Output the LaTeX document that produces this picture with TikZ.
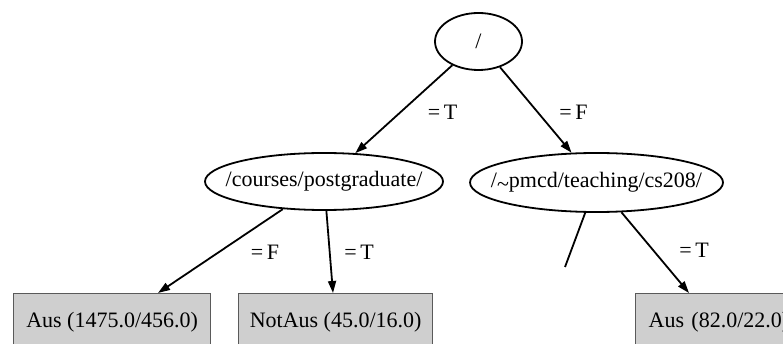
\documentclass[tikz,border=0pt]{standalone}
\usepackage{fontspec}
\setmainfont{Liberation Serif}
\usetikzlibrary{shapes.geometric,arrows.meta}
\definecolor{leaffill}{HTML}{CFCFCF}
\definecolor{leafline}{HTML}{5A5A5A}
\begin{document}
\begin{tikzpicture}[x=1pt,y=-1pt,
  every node/.style={font=\fontsize{22}{26}\selectfont},
  test/.style={ellipse, draw=black, line width=1.8pt, inner sep=0pt},
  leaf/.style={rectangle, draw=leafline, line width=1.3pt, fill=leaffill, inner sep=0pt, anchor=north west, text height=34pt, text depth=23pt},
  edge/.style={line width=1.8pt, -{Triangle[length=12pt,width=8pt]}},
  plain/.style={line width=1.8pt},
  lbl/.style={inner sep=0pt}]
\useasboundingbox (0,0) rectangle (783,344);
\clip (0,0) rectangle (783,344);
\fill[white] (0,0) rectangle (783,344);
% decision nodes
\node[test, minimum width=87pt, minimum height=57pt] (root) at (478.5,41.5) {\makebox[0pt]{/}};
\node[test, minimum width=238pt, minimum height=57pt] (cp) at (324,181.5) {\makebox[0pt]{/courses/postgraduate/}};
\node[test, minimum width=253pt, minimum height=59pt] (pm) at (596.5,182.5) {\makebox[0pt]{/\raisebox{-0.18em}{\textasciitilde}pmcd/teaching/cs208/}};
% leaves
\node[leaf, minimum width=197pt] (a1) at (13,293) {Aus (1475.0/456.0)};
\node[leaf, minimum width=194pt] (a2) at (238,293) {NotAus (45.0/16.0)};
\node[leaf, inner xsep=13pt, text width=160pt, align=left] (a3) at (635,293) {Aus (82.0/22.0)};
\coordinate (cut) at (565,267);
% edges
\draw[edge] (root) -- (cp);
\draw[edge] (root) -- (pm);
\draw[edge] (cp) -- ([xshift=145pt]a1.north west);
\draw[edge] (cp) -- ([xshift=95pt]a2.north west);
\draw[plain] (pm) -- (cut);
\draw[edge] (pm) -- ([xshift=54pt]a3.north west);
% edge labels
\node[lbl] (l1) at (442.5,112) {=\,T};
\node[lbl] (l2) at (573.5,112) {=\,F};
\node[lbl] (l3) at (265,252) {=\,F};
\node[lbl] (l4) at (359,252) {=\,T};
\node[lbl] (l5) at (694,250) {=\,T};
\end{tikzpicture}
\end{document}
